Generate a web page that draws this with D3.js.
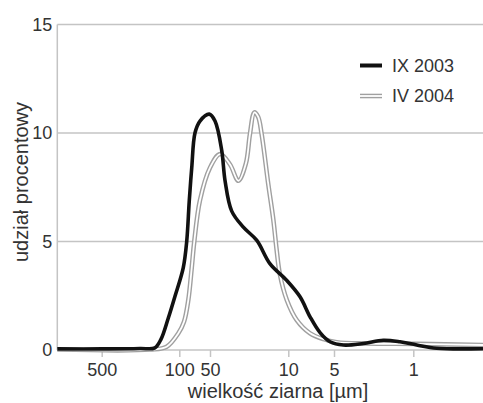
<!DOCTYPE html>
<html><head><meta charset="utf-8">
<script src="https://cdn.jsdelivr.net/npm/d3@7"></script>
<style>body{margin:0;background:#fff}svg{display:block}text{font-family:"Liberation Sans",Arial,sans-serif;fill:#333}</style>
</head><body>
<script>
// grain size [µm] and percentage share
const sizeIX = [1256,500,226,166,146,126,109,91.4,84.6,79.8,75.5,70.2,62.7,50.8,45.1,39.3,36.7,32.0,25.2,19.1,14.6,10.3,8.37,7.19,6.18,5.31,4.14,2.76,1.84,1.31,0.933,0.622,0.243];
const valIX  = [0.05,0.05,0.07,0.1,0.5,1.45,2.5,3.8,5.0,6.9,8.4,10.0,10.55,10.87,10.55,9.2,7.8,6.4,5.66,5.05,3.98,3.2,2.45,1.53,0.8,0.38,0.23,0.3,0.45,0.38,0.23,0.08,0.06];
const sizeIV = [1256,184,130,102,89.9,81.6,75.5,71.3,62.7,50,40.7,33.1,27.9,23.9,22.0,20.1,18.6,17.3,15.1,13.6,12.7,11.9,10.3,8.8,7.19,5.86,4.73,2.57,0.933,0.243];
const valIV  = [0.02,0.02,0.15,0.77,1.3,2.3,3.8,5.0,6.9,8.4,9.03,8.55,7.8,8.6,9.95,10.95,10.75,9.95,7.65,6.0,4.6,3.5,2.3,1.38,0.77,0.5,0.36,0.3,0.28,0.23];
const xTicks = [500,100,50,10,5,1];
const yTicks = [0,5,10,15];
const seriesNames = ["IX 2003","IV 2004"];

const W=483,H=403;
const svg=d3.select("body").append("svg").attr("width",W).attr("height",H);
const x=d3.scaleLog().domain([1256,500,100,50,10,5,1,0.243]).range([57.3,101.7,179.3,210,288.3,334,413.3,483]);
const y=d3.scaleLinear().domain([0,15]).range([350,24.5]);

// grid
svg.append("g").selectAll("line").data(yTicks.filter(d=>d>0)).join("line")
 .attr("x1",57.3).attr("x2",W).attr("y1",d=>y(d)).attr("y2",d=>y(d))
 .attr("stroke","#c4c4c4").attr("stroke-width",1.5);
svg.append("line").attr("x1",57.3).attr("x2",W).attr("y1",y(0)).attr("y2",y(0)).attr("stroke","#c4c4c4").attr("stroke-width",1.5);
svg.append("line").attr("x1",57.3).attr("x2",57.3).attr("y1",y(15)).attr("y2",y(0)).attr("stroke","#c4c4c4").attr("stroke-width",1.5);

// x axis
const xa=svg.append("g").attr("transform",`translate(0,${y(0)})`)
 .call(d3.axisBottom(x).tickValues(xTicks).tickFormat(d3.format("d")).tickSize(7).tickPadding(6));
xa.select(".domain").remove();
xa.selectAll("line").attr("stroke","#c4c4c4").attr("stroke-width",1.5);
xa.selectAll("text").attr("font-size",18).attr("fill","#333").style("font-family","Liberation Sans, Arial, sans-serif");

// y labels
const ya=svg.append("g").attr("transform","translate(57.3,0)")
 .call(d3.axisLeft(y).tickValues(yTicks).tickSize(0).tickPadding(5));
ya.select(".domain").remove();
ya.selectAll("text").attr("font-size",18).attr("fill","#333").style("font-family","Liberation Sans, Arial, sans-serif");

// axis titles
svg.append("text").attr("x",278).attr("y",398).attr("text-anchor","middle").attr("font-size",20).text("wielkość ziarna [µm]");
svg.append("text").attr("transform","translate(28,182) rotate(-90)").attr("text-anchor","middle").attr("font-size",20).text("udział procentowy");

const line=d3.line().x(d=>x(d[0])).y(d=>y(d[1])).curve(d3.curveCatmullRom.alpha(0.5));
const dIV=sizeIV.map((s,i)=>[s,valIV[i]]);
const dIX=sizeIX.map((s,i)=>[s,valIX[i]]);
svg.append("path").attr("d",line(dIV)).attr("fill","none").attr("stroke","#a0a0a0").attr("stroke-width",4.6);
svg.append("path").attr("d",line(dIV)).attr("fill","none").attr("stroke","#fff").attr("stroke-width",1.8);
svg.append("path").attr("d",line(dIX)).attr("fill","none").attr("stroke","#111").attr("stroke-width",3.6).attr("stroke-linejoin","round");

// legend
const lg=svg.append("g");
lg.append("line").attr("x1",360).attr("x2",382).attr("y1",65.5).attr("y2",65.5).attr("stroke","#111").attr("stroke-width",4);
lg.append("line").attr("x1",360).attr("x2",382).attr("y1",96).attr("y2",96).attr("stroke","#a0a0a0").attr("stroke-width",4.6);
lg.append("line").attr("x1",360).attr("x2",382).attr("y1",96).attr("y2",96).attr("stroke","#fff").attr("stroke-width",1.8);
lg.selectAll("text").data(seriesNames).join("text").attr("x",392).attr("y",(d,i)=>65.5+i*30.5).attr("dy","0.35em").attr("font-size",18).text(d=>d);
</script>
</body></html>
